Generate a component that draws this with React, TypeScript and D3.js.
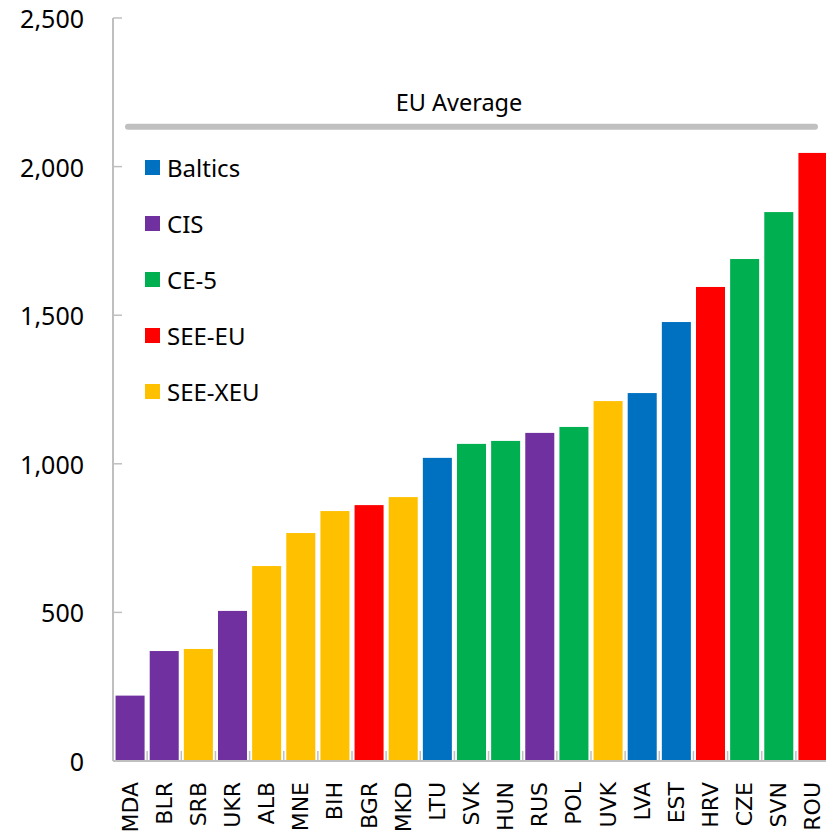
import React from "react";
import * as d3 from "d3";

const countries = ["MDA","BLR","SRB","UKR","ALB","MNE","BIH","BGR","MKD","LTU","SVK","HUN","RUS","POL","UVK","LVA","EST","HRV","CZE","SVN","ROU"];
const values = [220,370,377,505,656,767,841,861,888,1020,1067,1077,1104,1124,1211,1238,1477,1595,1689,1847,2046];
const groups = ["CIS","CIS","SEE-XEU","CIS","SEE-XEU","SEE-XEU","SEE-XEU","SEE-EU","SEE-XEU","Baltics","CE-5","CE-5","CIS","CE-5","SEE-XEU","Baltics","Baltics","SEE-EU","CE-5","CE-5","SEE-EU"];
const legendNames = ["Baltics","CIS","CE-5","SEE-EU","SEE-XEU"];
const legendColors = ["#0070C0","#7030A0","#00B050","#FF0000","#FFC000"];
const yTicks = [0,500,1000,1500,2000,2500];
const euAverage = 2134;

const W = 826, H = 835;
const left = 113, top = 18, bottom = 761, right = 830;

export default function App() {
  const x = d3.scaleBand<string>().domain(countries).range([left, right]).paddingInner(0.15).paddingOuter(0.075);
  const y = d3.scaleLinear().domain([0, 2500]).range([bottom, top]);
  const color = d3.scaleOrdinal<string, string>().domain(legendNames).range(legendColors);
  const fmt = d3.format(",");
  const step = x.step();
  return (
    <svg width={W} height={H} style={{ position: "absolute", left: 0, top: 0, background: "#fff" }}>
      {countries.map((c, i) => (
        <rect key={c} x={x(c)} y={y(values[i])} width={x.bandwidth()} height={y(0) - y(values[i])} fill={color(groups[i])} />
      ))}
      {/* axes */}
      <line x1={left} x2={left} y1={top} y2={bottom} stroke="#bfbfbf" strokeWidth={2} />
      <line x1={left} x2={W} y1={bottom} y2={bottom} stroke="#bfbfbf" strokeWidth={2} />
      {yTicks.map((t) => (
        <g key={t}>
          <line x1={left} x2={left + 9} y1={y(t)} y2={y(t)} stroke="#bfbfbf" strokeWidth={1.5} />
          <text x={84} y={y(t)} textAnchor="end" dominantBaseline="central" fontFamily="'Noto Sans', 'Open Sans', sans-serif" fontSize={25} fill="#000">{fmt(t)}</text>
        </g>
      ))}
      {countries.map((c) => {
        const tx = (x(c) as number) + x.bandwidth() + (step - x.bandwidth()) / 2;
        return <line key={"t" + c} x1={tx} x2={tx} y1={bottom} y2={bottom - 10} stroke="#bfbfbf" strokeWidth={1.5} />;
      })}
      {countries.map((c) => (
        <text key={"l" + c} transform={`translate(${(x(c) as number) + x.bandwidth() / 2},782) rotate(-90)`} textAnchor="end" dominantBaseline="central" fontFamily="'DejaVu Sans', sans-serif" fontSize={22} fill="#000">{c}</text>
      ))}
      {/* EU average */}
      <line x1={128} x2={815} y1={y(euAverage)} y2={y(euAverage)} stroke="#c0c0c0" strokeWidth={6} strokeLinecap="round" />
      <text x={459} y={y(euAverage) - 16} textAnchor="middle" fontFamily="'Noto Sans', 'Open Sans', sans-serif" fontSize={23.5} fill="#000">EU Average</text>
      {/* legend */}
      {legendNames.map((n, i) => (
        <g key={n} transform={`translate(145,${167.5 + i * 56})`}>
          <rect x={0} y={-7.5} width={15} height={15} fill={legendColors[i]} />
          <text x={22} y={0} dominantBaseline="central" fontFamily="'Noto Sans', 'Open Sans', sans-serif" fontSize={24} fill="#000">{n}</text>
        </g>
      ))}
    </svg>
  );
}
